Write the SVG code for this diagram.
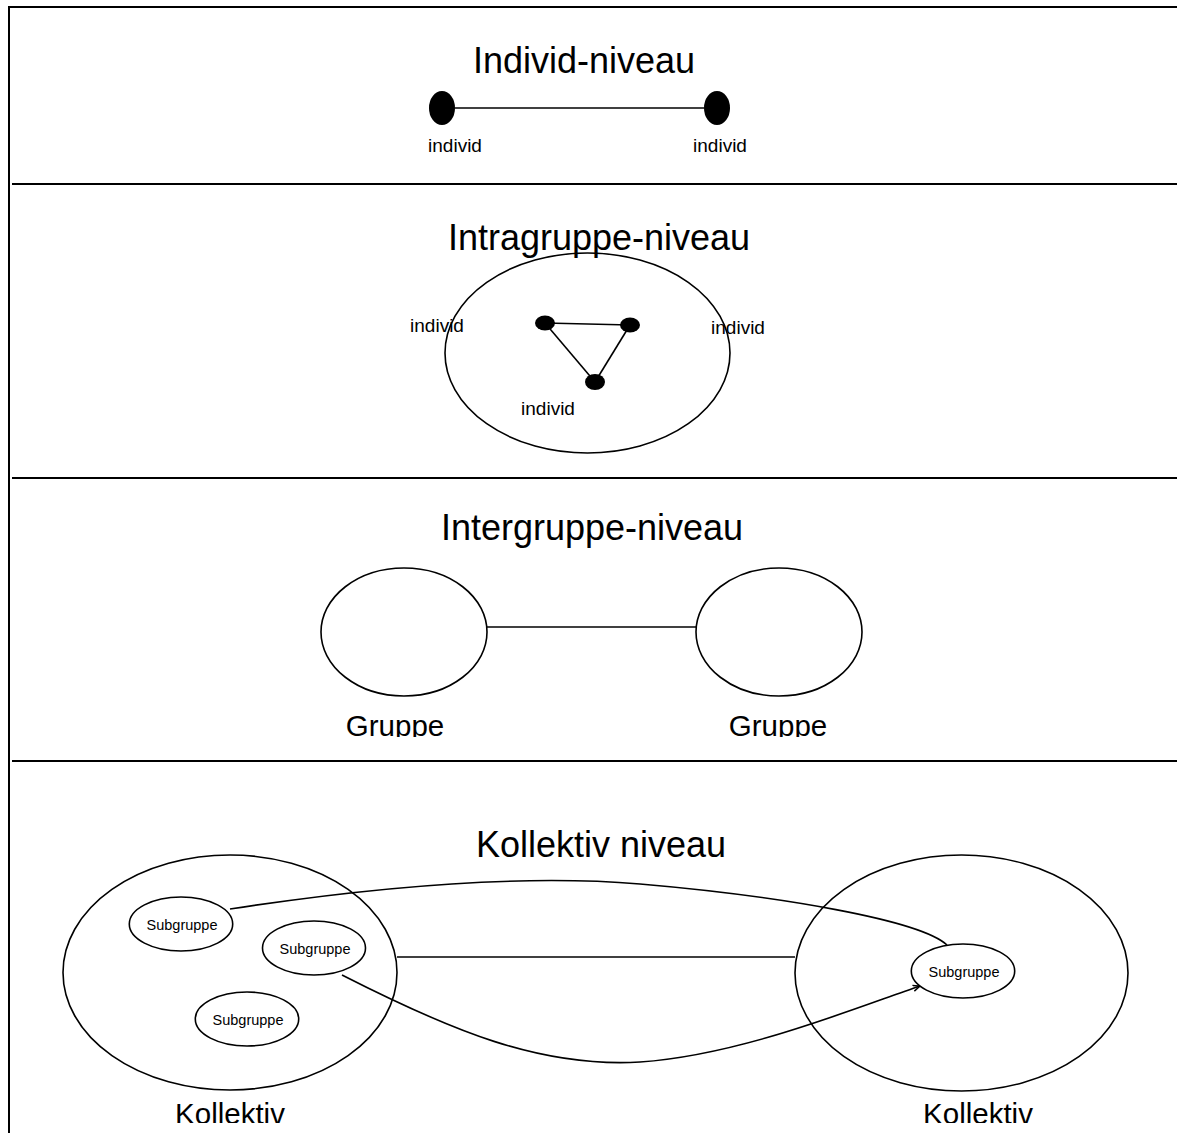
<svg xmlns="http://www.w3.org/2000/svg" width="1177" height="1133" viewBox="0 0 1177 1133">
<style>
text{font-family:"Liberation Sans",Arial,sans-serif;fill:#000}
.title{font-size:36px;text-anchor:middle}
.lbl{font-size:19px;text-anchor:middle}
.big{font-size:29.5px;text-anchor:middle}
.sub{font-size:14.5px;text-anchor:middle}
.frame{stroke:#000;stroke-width:2;fill:none}
.shape{stroke:#000;stroke-width:1.6;fill:#fff}
.dot{fill:#000}
.edge{stroke:#000;stroke-width:1.6;fill:none}
</style>
<defs>
<marker id="arr" markerWidth="8" markerHeight="8" refX="7" refY="4" orient="auto" markerUnits="userSpaceOnUse">
<path d="M0,1 L7,4 L0,7" fill="none" stroke="#000" stroke-width="1.4"/>
</marker>
<clipPath id="clipG"><rect x="0" y="0" width="1177" height="737"/></clipPath>
<clipPath id="clipK"><rect x="0" y="0" width="1177" height="1123"/></clipPath>
</defs>
<g id="frame">
<path class="frame" d="M9,1133 V7 H1177"/>
<line class="frame" x1="12" y1="184" x2="1177" y2="184"/>
<line class="frame" x1="12" y1="478" x2="1177" y2="478"/>
<line class="frame" x1="12" y1="761" x2="1177" y2="761"/>
</g>
<g id="titles">
<text class="title" x="584" y="73">Individ-niveau</text>
<text class="title" x="599" y="250">Intragruppe-niveau</text>
<text class="title" x="592" y="540">Intergruppe-niveau</text>
<text class="title" x="601" y="857">Kollektiv niveau</text>
</g>
<g id="connectors">
<line class="edge" x1="455" y1="108" x2="704" y2="108"/>
<line class="edge" x1="545" y1="323" x2="630" y2="325"/>
<line class="edge" x1="545" y1="323" x2="595" y2="382"/>
<line class="edge" x1="630" y1="325" x2="595" y2="382"/>
<line class="edge" x1="487" y1="627" x2="696" y2="627"/>
<line class="edge" x1="397" y1="957" x2="795" y2="957"/>
</g>
<g id="individ-a"><ellipse class="dot" cx="442" cy="108" rx="13" ry="17"/><text class="lbl" x="455" y="152">individ</text></g>
<g id="individ-b"><ellipse class="dot" cx="717" cy="108" rx="13" ry="17"/><text class="lbl" x="720" y="152">individ</text></g>
<g id="intragruppe">
<ellipse class="edge" cx="587.5" cy="353" rx="142.5" ry="100"/>
<ellipse class="dot" cx="545" cy="323" rx="10" ry="7.5"/>
<ellipse class="dot" cx="630" cy="325" rx="10" ry="7.5"/>
<ellipse class="dot" cx="595" cy="382" rx="10" ry="8"/>
<text class="lbl" x="437" y="332">individ</text>
<text class="lbl" x="738" y="334">individ</text>
<text class="lbl" x="548" y="415">individ</text>
</g>
<g id="gruppe-a"><ellipse class="edge" cx="404" cy="632" rx="83" ry="64"/><text class="big" x="395" y="736" clip-path="url(#clipG)">Gruppe</text></g>
<g id="gruppe-b"><ellipse class="edge" cx="779" cy="632" rx="83" ry="64"/><text class="big" x="778" y="736" clip-path="url(#clipG)">Gruppe</text></g>
<g id="kollektiv-a">
<ellipse class="edge" cx="230" cy="972.5" rx="167" ry="117.5"/>
<text class="big" x="230" y="1124" clip-path="url(#clipK)">Kollektiv</text>
</g>
<g id="kollektiv-b">
<ellipse class="edge" cx="961.5" cy="973" rx="166.5" ry="118"/>
<text class="big" x="978" y="1124" clip-path="url(#clipK)">Kollektiv</text>
</g>
<g id="curves">
<path class="edge" d="M230,909 C380,886 520,874 640,884 C780,896 920,920 947,945"/>
<path class="edge" d="M342,975 C450,1030 540,1068 640,1062 C740,1055 850,1010 920,986" marker-end="url(#arr)"/>
</g>
<g id="sub-1"><ellipse class="shape" cx="181" cy="924" rx="51.7" ry="27"/><text class="sub" x="182" y="930">Subgruppe</text></g>
<g id="sub-2"><ellipse class="shape" cx="314" cy="948" rx="51.5" ry="27"/><text class="sub" x="315" y="954">Subgruppe</text></g>
<g id="sub-3"><ellipse class="shape" cx="247" cy="1019" rx="51.7" ry="27"/><text class="sub" x="248" y="1025">Subgruppe</text></g>
<g id="sub-4"><ellipse class="shape" cx="963" cy="971" rx="51.7" ry="27"/><text class="sub" x="964" y="977">Subgruppe</text></g>
</svg>
